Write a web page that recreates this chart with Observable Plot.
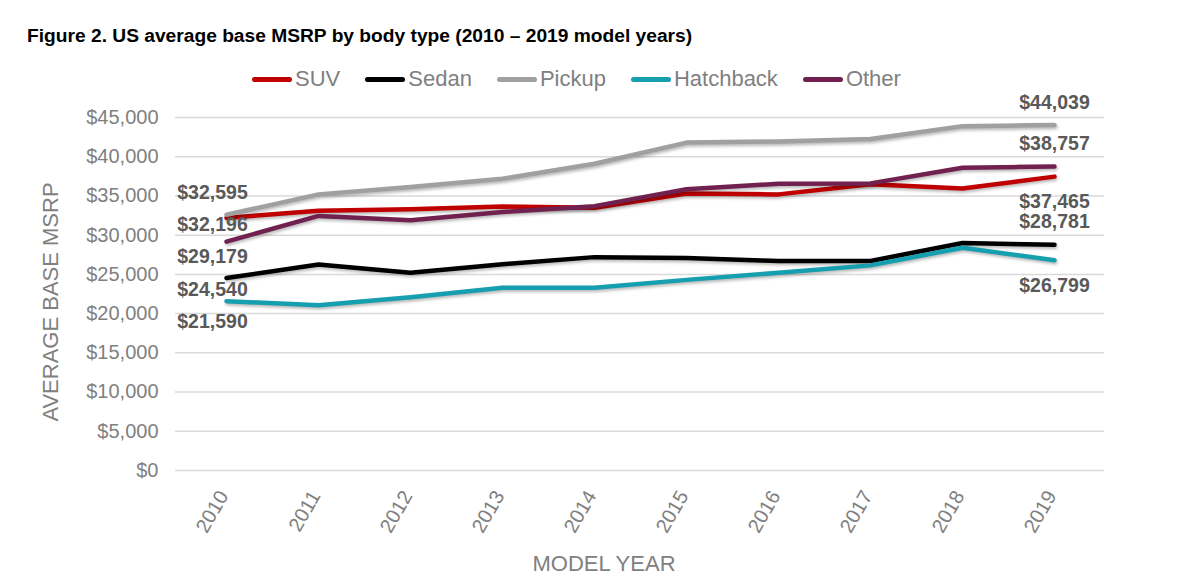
<!DOCTYPE html>
<html>
<head>
<meta charset="utf-8">
<script src="https://cdn.jsdelivr.net/npm/d3@7"></script>
<script src="https://cdn.jsdelivr.net/npm/@observablehq/plot@0.6"></script>
<style>
  html, body { margin: 0; padding: 0; background: #fff; }
  body { width: 1200px; height: 579px; overflow: hidden; font-family: "Liberation Sans", Arial, sans-serif; }
  #title { height: 57px; box-sizing: border-box; padding: 25px 0 0 27px; font-size: 19.2px; font-weight: bold; line-height: 21px; color: #000; white-space: nowrap; }
  #legend { height: 44px; display: flex; align-items: center; padding-left: 252px; box-sizing: border-box; }
  .item { display: flex; align-items: center; margin-right: 25px; }
  .sw { width: 40px; height: 5px; border-radius: 3px; margin-right: 3px; }
  .lab { font-size: 22px; color: #808080; line-height: 24px; }
  svg g[aria-label="line"] path { filter: drop-shadow(1px 2px 1.5px rgba(0,0,0,0.28)); }
</style>
</head>
<body>
<div id="title">Figure 2. US average base MSRP by body type (2010 – 2019 model years)</div>
<div id="legend"></div>
<div id="chart"></div>
<script>
const years = [2010, 2011, 2012, 2013, 2014, 2015, 2016, 2017, 2018, 2019];
const seriesNames = ["SUV", "Sedan", "Pickup", "Hatchback", "Other"];
const seriesColors = ["#c00000", "#000000", "#a0a0a0", "#169faf", "#70214f"];
const suv = [32196, 33100, 33300, 33650, 33500, 35300, 35200, 36500, 35950, 37465];
const sedan = [24540, 26250, 25200, 26300, 27200, 27100, 26700, 26700, 29000, 28781];
const pickup = [32595, 35200, 36150, 37200, 39100, 41800, 41950, 42250, 43900, 44039];
const hatchback = [21590, 21060, 22100, 23300, 23300, 24300, 25200, 26150, 28400, 26799];
const other = [29179, 32450, 31900, 32950, 33700, 35850, 36550, 36600, 38600, 38757];
const yTicks = [0, 5000, 10000, 15000, 20000, 25000, 30000, 35000, 40000, 45000];
const yTitle = "AVERAGE BASE MSRP";
const xTitle = "MODEL YEAR";

const seriesValues = {SUV: suv, Sedan: sedan, Pickup: pickup, Hatchback: hatchback, Other: other};
const rows = seriesNames.flatMap(s => years.map((yr, i) => ({series: s, year: yr, value: seriesValues[s][i]})));
const money = v => "$" + d3.format(",")(v);

// label placement (style, not data)
const firstOffsets = {Pickup: [-14, -22], SUV: [-14, 7], Other: [-14, 15], Sedan: [-14, 12], Hatchback: [-14, 21]};
const lastOffsets = {Pickup: [0, -22], Other: [0, -23], SUV: [0, 25], Sedan: [0, -23], Hatchback: [0, 25]};

const labelStyle = {fontSize: 19.5, fontWeight: "bold", fill: "#595959"};
const labelMarks = seriesNames.flatMap(s => {
  const first = rows.filter(r => r.series === s && r.year === years[0]);
  const last = rows.filter(r => r.series === s && r.year === years[years.length - 1]);
  return [
    Plot.text(first, {x: "year", y: "value", text: d => money(d.value), dx: firstOffsets[s][0], dy: firstOffsets[s][1], ...labelStyle}),
    Plot.text(last, {x: "year", y: "value", text: d => money(d.value), dx: lastOffsets[s][0], dy: lastOffsets[s][1], ...labelStyle})
  ];
});

// legend
const legend = document.getElementById("legend");
seriesNames.forEach((s, i) => {
  const it = document.createElement("div");
  it.className = "item";
  it.innerHTML = `<div class="sw" style="background:${seriesColors[i]}"></div><div class="lab">${s}</div>`;
  legend.appendChild(it);
});

const chart = Plot.plot({
  width: 1200,
  height: 478,
  marginTop: 16,
  marginBottom: 109,
  marginLeft: 175,
  marginRight: 96,
  style: {fontFamily: "'Liberation Sans', Arial, sans-serif", background: "#fff", overflow: "visible"},
  x: {type: "point", domain: years, padding: 0.5, axis: null},
  y: {domain: [0, 45000], axis: null},
  color: {domain: seriesNames, range: seriesColors},
  marks: [
    Plot.gridY(yTicks, {stroke: "#d9d9d9", strokeOpacity: 1, strokeWidth: 1.5}),
    Plot.axisY(yTicks, {tickSize: 0, tickPadding: 17, tickFormat: money, fontSize: 20, color: "#808080", label: null}),
    Plot.axisX(years, {tickSize: 0, tickRotate: -60, tickPadding: 22, dx: -3, tickFormat: d => String(d), fontSize: 20, color: "#808080", label: null}),
    Plot.text([yTitle], {text: d => d, frameAnchor: "left", textAnchor: "middle", lineAnchor: "middle", rotate: -90, dx: -125, dy: 8, fontSize: 22, fill: "#808080"}),
    Plot.text([xTitle], {text: d => d, frameAnchor: "bottom", textAnchor: "middle", lineAnchor: "middle", dx: -36, dy: 93, fontSize: 22, fill: "#808080"}),
    Plot.line(rows, {x: "year", y: "value", z: "series", stroke: "series", strokeWidth: 4.5, strokeLinecap: "round", strokeLinejoin: "round"}),
    ...labelMarks
  ]
});
document.getElementById("chart").appendChild(chart);
</script>
</body>
</html>
